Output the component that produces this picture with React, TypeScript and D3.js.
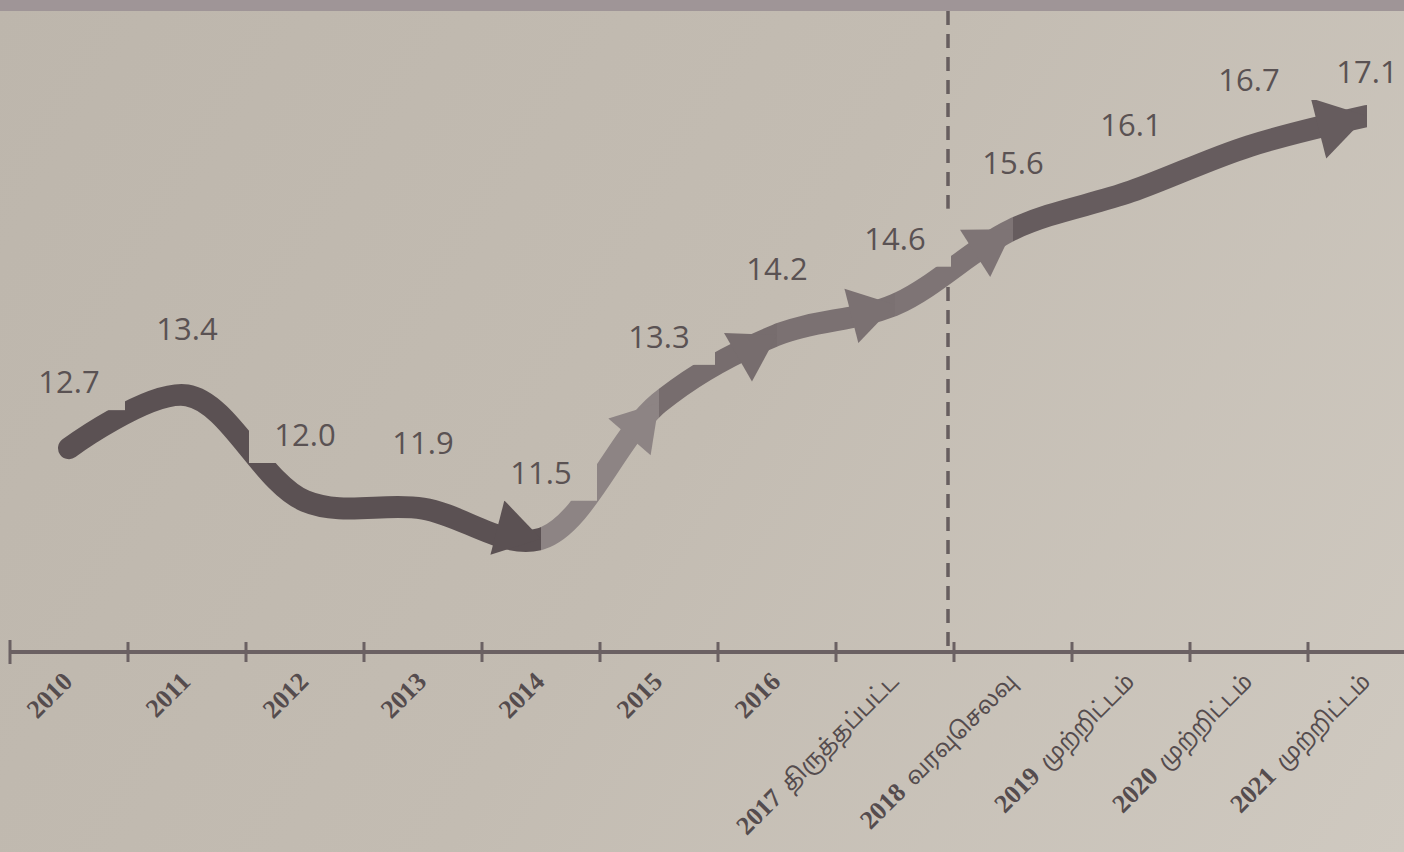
import React from "react";
import * as d3 from "d3";

// years on the axis, with the Tamil note that follows some of them
const years = ["2010", "2011", "2012", "2013", "2014", "2015", "2016", "2017", "2018", "2019", "2020", "2021"];
const notes = ["", "", "", "", "", "", "", "திருத்தப்பட்ட", "வரவுசெலவு", "முற்றிட்டம்", "முற்றிட்டம்", "முற்றிட்டம்"];
const values = [12.7, 13.4, 12.0, 11.9, 11.5, 13.3, 14.2, 14.6, 15.6, 16.1, 16.7, 17.1];

// arrow pieces: [from index, to index] and their ink
const pieces: [number, number][] = [[0, 4], [4, 5], [5, 6], [6, 7], [7, 8], [8, 11]];
const pieceInk = ["#5b5153", "#8d8484", "#776d6e", "#7b7172", "#7e7475", "#665c5e"];

const W = 1404;
const H = 852;

const App: React.FC = () => {
  const x = d3.scaleBand<string>().domain(years).range([10, 10 + 118 * years.length]);
  const y = d3.scaleLinear().domain([10, 18]).range([652, 48]);
  const cx = (i: number) => (x(years[i]) as number) + x.bandwidth() / 2;

  const pts: [number, number][] = values.map((v, i) => [cx(i), y(v)]);
  const line = d3.line().curve(d3.curveCatmullRom.alpha(0.5));
  const pathD = line(pts) || "";

  const arrowHead = (i: number, big: boolean) => {
    const [tx, ty] = pts[i];
    const [px, py] = pts[i - 1];
    const a = Math.atan2(ty - py, tx - px);
    const len = big ? 50 : 45;
    const half = big ? 31 : 28;
    const bx = tx - Math.cos(a) * len;
    const by = ty - Math.sin(a) * len;
    const nx = -Math.sin(a) * half;
    const ny = Math.cos(a) * half;
    return `M${tx},${ty}L${bx + nx},${by + ny}L${bx - nx},${by - ny}Z`;
  };

  const ticks = d3.range(years.length + 1).map((i) => 10 + i * x.bandwidth());
  const dashX = (x("2018") as number) - 6;

  return (
    <svg width={W} height={H} style={{ position: "absolute", left: 0, top: 0 }}>
      <defs>
        <linearGradient id="bg" gradientUnits="userSpaceOnUse" x1={0} y1={0} x2={W} y2={H}>
          <stop offset="0" stopColor="#bdb6ac" />
          <stop offset="0.5" stopColor="#c3bcb2" />
          <stop offset="1" stopColor="#cfc9c0" />
        </linearGradient>
        {pieces.map(([a, b], k) => (
          <clipPath id={`seg${k}`} key={k}>
            <rect x={k === 0 ? 0 : pts[a][0]} y={0} width={pts[b][0] - (k === 0 ? 0 : pts[a][0])} height={H} />
          </clipPath>
        ))}
      </defs>
      <rect width={W} height={H} fill="url(#bg)" />
      <rect width={W} height={11} fill="#9f9597" />

      {/* dashed split between actual and projected */}
      <line x1={dashX} x2={dashX} y1={11} y2={y(10)} stroke="#675e5f" strokeWidth={3.5} strokeDasharray="14 9" />

      {/* the arrow */}
      {pieces.map(([a, b], k) => (
        <g key={k}>
          <path d={pathD} fill="none" stroke={pieceInk[k]} strokeWidth={22} strokeLinecap="round" clipPath={`url(#seg${k})`} />
          <path d={arrowHead(b, b === values.length - 1)} fill={pieceInk[k]} />
        </g>
      ))}

      {/* value labels with their boxes */}
      {values.map((v, i) => {
        const ly = Math.max(71, y(v) - 67);
        return (
          <g key={i}>
            <rect x={cx(i) - 56} y={ly - 29} width={112} height={58} fill="url(#bg)" />
            <text x={cx(i)} y={ly} textAnchor="middle" dominantBaseline="central" fontFamily="'Open Sans', sans-serif" fontSize={31} fill="#5a5253">
              {v.toFixed(1)}
            </text>
          </g>
        );
      })}

      {/* axis */}
      <line x1={10} x2={W} y1={y(10)} y2={y(10)} stroke="#6b6163" strokeWidth={4} />
      {ticks.map((t, i) => (
        <line key={i} x1={t} x2={t} y1={y(10) - (i === 0 ? 12 : 10)} y2={y(10) + (i === 0 ? 12 : 10)} stroke="#6b6163" strokeWidth={3} />
      ))}
      {years.map((yr, i) => (
        <text
          key={yr}
          transform={`translate(${cx(i) + 5},${y(10) + 31}) rotate(-45)`}
          textAnchor="end"
          fill="#554c4e"
        >
          <tspan fontFamily="'Liberation Serif', serif" fontWeight="bold" fontSize={26}>{yr}</tspan>
          {notes[i] ? (
            <tspan fontFamily="'Noto Sans Tamil', 'Noto Sans', sans-serif" fontSize={23} dx={10}>{notes[i]}</tspan>
          ) : null}
        </text>
      ))}
    </svg>
  );
};

export default App;
